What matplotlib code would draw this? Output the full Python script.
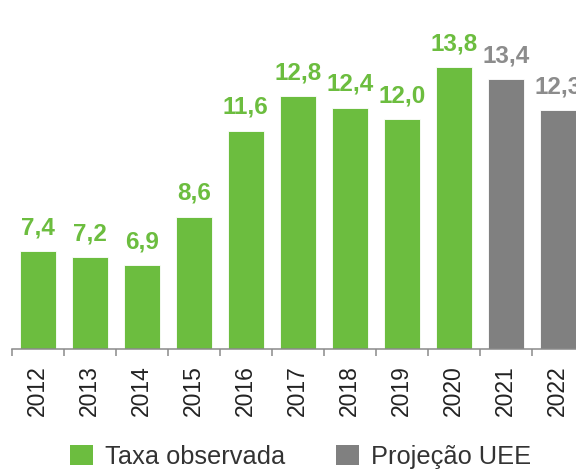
import matplotlib
matplotlib.use("Agg")
import matplotlib.pyplot as plt
from matplotlib.patches import Patch

years = ["2012", "2013", "2014", "2015", "2016", "2017", "2018", "2019", "2020", "2021", "2022"]
values = [7.4, 7.2, 6.9, 8.6, 11.6, 12.8, 12.4, 12.0, 13.8, 13.4, 12.3]
is_projection = [False, False, False, False, False, False, False, False, False, True, True]
legend_labels = ["Taxa observada", "Projeção UEE"]

GREEN = "#6cbd3f"
GREY = "#808080"
GREY_TXT = "#8c8c8c"
AXIS = "#8a8a8a"

plt.rcParams["font.family"] = ["Liberation Sans", "DejaVu Sans"]

fig = plt.figure(figsize=(5.76, 4.70), dpi=100)
ax = fig.add_axes([11.7 / 576, (470 - 349.3) / 470, 11 * 52.0 / 576, 349.3 / 470])

x = list(range(len(years)))
colors = [GREY if p else GREEN for p in is_projection]
ax.bar(x, values, width=0.7, color=colors, edgecolor="white", linewidth=0.6, zorder=2)

for xi, v, p in zip(x, values, is_projection):
    ax.annotate(f"{v:.1f}".replace(".", ","), xy=(xi, v), xytext=(0, 12),
                textcoords="offset points", ha="center", va="baseline",
                fontsize=17.5, fontweight="bold",
                color=GREY_TXT if p else GREEN)

ax.set_xlim(-0.5, len(years) - 0.5)
ax.set_ylim(3.975, 16.15)

for s in ["top", "right", "left"]:
    ax.spines[s].set_visible(False)
ax.spines["bottom"].set_color(AXIS)
ax.spines["bottom"].set_linewidth(1.1)
ax.set_yticks([])

ax.set_xticks(x)
ax.set_xticklabels(years, rotation=90, fontsize=16.5, color="#222222")
ax.tick_params(axis="x", which="major", length=0, pad=11.5)
ax.set_xticks([i - 0.5 for i in range(len(years) + 1)], minor=True)
ax.tick_params(axis="x", which="minor", length=5, width=1.1, color=AXIS, direction="out")

handles = [Patch(facecolor=GREEN, edgecolor="none"), Patch(facecolor=GREY, edgecolor="none")]
fig.legend(handles, legend_labels, loc="center", bbox_to_anchor=(0.522, (470 - 457) / 470),
           ncol=2, frameon=False, fontsize=18.3, handlelength=0.9, handleheight=0.85,
           handletextpad=0.47, columnspacing=2.0, labelcolor="#333333")

fig.savefig("out.png", dpi=100)
